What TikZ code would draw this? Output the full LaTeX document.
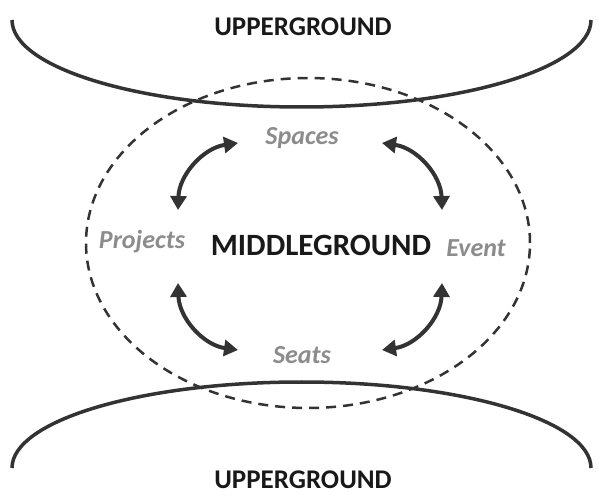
\documentclass[tikz,border=0pt]{standalone}
\usepackage{fontspec}
\setmainfont{Carlito}
\usetikzlibrary{arrows.meta}

\begin{document}
\begin{tikzpicture}[x=1pt,y=1pt]
    \tikzstyle{ground}=[draw=black!80,line width=3.5pt]
    \tikzstyle{zone}=[draw=black!80,line width=2.5pt,dash pattern=on 10pt off 7pt]
    \tikzstyle{big}=[anchor=base,inner sep=1pt,font=\bfseries\fontsize{27}{27}\selectfont,text=black!90]
    \tikzstyle{item}=[font=\bfseries\itshape\fontsize{26}{26}\selectfont,text=black!45]
    \tikzstyle{link}=[draw=black!80,line width=4pt,{Triangle[length=14pt,width=16pt]}-{Triangle[length=14pt,width=16pt]}]

    \useasboundingbox (0,0) rectangle (603,496);

    %%%%%%%%%%%%%%%%%%%%%%%%%%%%%%%%%%%%%%%%%%%%
    %%% DRAW THE GROUNDS
    %%%%%%%%%%%%%%%%%%%%%%%%%%%%%%%%%%%%%%%%%%%%
    \path[zone] (308,253) ellipse[x radius=222,y radius=165];
    \path[ground] (12,476) arc[start angle=180,end angle=360,x radius=289.5,y radius=87];
    \path[ground] (12,28) arc[start angle=180,end angle=0,x radius=289.5,y radius=86];

    \node[big] (up-1) at (303,460) {UPPERGROUND};
    \node[big] (up-2) at (303,8) {UPPERGROUND};
    \node[big,font=\bfseries\fontsize{31}{31}\selectfont] (mid) at (321,240) {MIDDLEGROUND};

    %%%%%%%%%%%%%%%%%%%%%%%%%%%%%%%%%%%%%%%%%%%%
    %%% DRAW THE ITEMS
    %%%%%%%%%%%%%%%%%%%%%%%%%%%%%%%%%%%%%%%%%%%%
    \node[item] (spaces) at (302,358) {Spaces};
    \node[item] (projects) at (142,254) {Projects};
    \node[item] (event) at (476,248) {Event};
    \node[item] (seats) at (302,141) {Seats};

    % Link the items
    \path[link] ([shift={(36,32)}]projects.center) to[bend left=40] ([shift={(-64,-5)}]spaces.center);
    \path[link] ([shift={(80,-5)}]spaces.center) to[bend left=40] ([shift={(-34,38)}]event.center);
    \path[link] ([shift={(36,-41)}]projects.center) to[bend right=40] ([shift={(-64,5)}]seats.center);
    \path[link] ([shift={(-34,-35)}]event.center) to[bend left=40] ([shift={(80,5)}]seats.center);
\end{tikzpicture}
\end{document}
